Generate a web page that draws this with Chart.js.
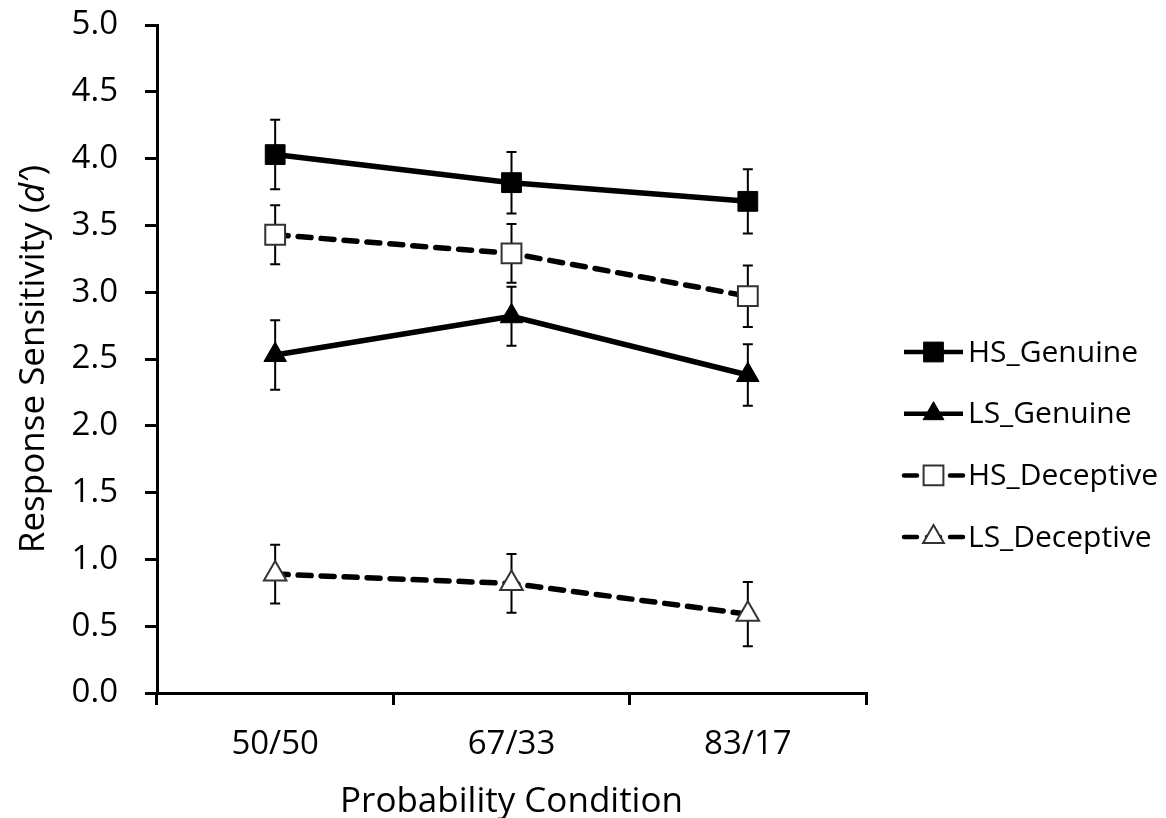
<!DOCTYPE html>
<html>
<head>
<meta charset="utf-8">
<script src="https://cdn.jsdelivr.net/npm/chart.js"></script>
<style>
  html, body { margin: 0; padding: 0; background: #fff; }
  canvas { display: block; }
</style>
</head>
<body>
<canvas id="d_prime_chart" width="1166" height="818"></canvas>
<script>
  // Probability conditions (x axis)
  const conditions = ["50/50", "67/33", "83/17"];

  // Mean response sensitivity per condition, with error bar half-widths
  const hs_genuine = [4.03, 3.82, 3.68];
  const hs_genuine_err = [0.26, 0.23, 0.24];
  const ls_genuine = [2.53, 2.82, 2.38];
  const ls_genuine_err = [0.26, 0.22, 0.23];
  const hs_deceptive = [3.43, 3.29, 2.97];
  const hs_deceptive_err = [0.22, 0.22, 0.23];
  const ls_deceptive = [0.89, 0.82, 0.59];
  const ls_deceptive_err = [0.22, 0.22, 0.24];

  // Y axis range and tick step
  const y_min = 0;
  const y_max = 5;
  const y_step = 0.5;

  const FONT = "'Open Sans', 'DejaVu Sans', sans-serif";
  Chart.defaults.font.family = FONT;
  Chart.defaults.color = "#000";

  function series(label, data, errors, style, filled, dashed) {
    return {
      label: label,
      data: data,
      errors: errors,
      borderColor: "#000",
      borderWidth: 5.5,
      borderDash: dashed ? [13, 10] : [],
      borderCapStyle: dashed ? "round" : "butt",
      pointStyle: style,
      pointRadius: style === "rect" ? 14 : 13,
      pointBorderWidth: filled ? 1 : 2,
      pointBackgroundColor: filled ? "#000" : "#fff",
      pointBorderColor: filled ? "#000" : "#333",
      tension: 0,
      fill: false,
    };
  }

  // Vertical error bars with small caps, drawn under the lines and markers
  const errorBars = {
    id: "errorBars",
    beforeDatasetsDraw(chart) {
      const ctx = chart.ctx;
      const y = chart.scales.y;
      ctx.save();
      ctx.strokeStyle = "#000";
      ctx.lineWidth = 2;
      chart.data.datasets.forEach((ds, i) => {
        chart.getDatasetMeta(i).data.forEach((pt, j) => {
          const top = y.getPixelForValue(ds.data[j] + ds.errors[j]);
          const bot = y.getPixelForValue(ds.data[j] - ds.errors[j]);
          ctx.beginPath();
          ctx.moveTo(pt.x, top);
          ctx.lineTo(pt.x, bot);
          ctx.moveTo(pt.x - 5, top);
          ctx.lineTo(pt.x + 5, top);
          ctx.moveTo(pt.x - 5, bot);
          ctx.lineTo(pt.x + 5, bot);
          ctx.stroke();
        });
      });
      ctx.restore();
    },
  };

  // Legend on the right: short line with the marker in the middle
  const sideLegend = {
    id: "sideLegend",
    afterDraw(chart) {
      const ctx = chart.ctx;
      const x0 = chart.chartArea.right + 38;
      const x1 = x0 + 59;
      const xm = (x0 + x1) / 2;
      ctx.save();
      chart.data.datasets.forEach((ds, i) => {
        const yy = 352 + i * 61.7;
        ctx.beginPath();
        ctx.setLineDash(ds.borderDash);
        ctx.lineCap = ds.borderCapStyle;
        ctx.lineWidth = 4.5;
        ctx.strokeStyle = "#000";
        ctx.moveTo(x0, yy);
        ctx.lineTo(x1, yy);
        ctx.stroke();
        ctx.setLineDash([]);
        ctx.fillStyle = ds.pointBackgroundColor;
        ctx.strokeStyle = ds.pointBorderColor;
        ctx.lineWidth = ds.pointBorderWidth;
        Chart.helpers.drawPoint(ctx, {
          pointStyle: ds.pointStyle,
          radius: ds.pointStyle === "rect" ? 14 : 12,
          rotation: 0,
          borderWidth: ds.pointBorderWidth,
        }, xm, yy);
        ctx.fillStyle = "#000";
        ctx.font = "30px " + FONT;
        ctx.textAlign = "left";
        ctx.textBaseline = "middle";
        ctx.fillText(ds.label, x1 + 5, yy + 1);
      });
      ctx.restore();
    },
  };

  // Axis titles; the y title has an italic d'
  const axisTitles = {
    id: "axisTitles",
    afterDraw(chart) {
      const ctx = chart.ctx;
      const area = chart.chartArea;
      ctx.save();
      ctx.fillStyle = "#000";
      ctx.textBaseline = "alphabetic";

      ctx.font = "35px " + FONT;
      ctx.textAlign = "center";
      ctx.fillText("Probability Condition", (area.left + area.right) / 2, 812);

      const parts = [
        { text: "Response Sensitivity (", font: "35px " + FONT },
        { text: "d\u2032", font: "italic 35px " + FONT },
        { text: ")", font: "35px " + FONT },
      ];
      let total = 0;
      parts.forEach((p) => {
        ctx.font = p.font;
        p.w = ctx.measureText(p.text).width;
        total += p.w;
      });
      ctx.translate(44, (area.top + area.bottom) / 2);
      ctx.rotate(-Math.PI / 2);
      ctx.textAlign = "left";
      let x = -total / 2;
      parts.forEach((p) => {
        ctx.font = p.font;
        ctx.fillText(p.text, x, 0);
        x += p.w;
      });
      ctx.restore();
    },
  };

  new Chart("d_prime_chart", {
    type: "line",
    data: {
      labels: conditions,
      datasets: [
        series("HS_Genuine", hs_genuine, hs_genuine_err, "rect", true, false),
        series("LS_Genuine", ls_genuine, ls_genuine_err, "triangle", true, false),
        series("HS_Deceptive", hs_deceptive, hs_deceptive_err, "rect", false, true),
        series("LS_Deceptive", ls_deceptive, ls_deceptive_err, "triangle", false, true),
      ],
    },
    plugins: [errorBars, sideLegend, axisTitles],
    options: {
      responsive: false,
      animation: false,
      devicePixelRatio: 1,
      layout: { padding: { left: 0, right: 300, top: 25, bottom: 0 } },
      plugins: {
        legend: { display: false },
        tooltip: { enabled: false },
      },
      scales: {
        x: {
          type: "category",
          offset: true,
          grid: {
            offset: true,
            drawOnChartArea: false,
            drawTicks: true,
            tickLength: 12,
            lineWidth: 3,
            color: "#000",
          },
          border: { display: true, color: "#000", width: 3 },
          ticks: { font: { size: 33 }, padding: 20, maxRotation: 0 },
          afterFit(scale) {
            scale.height = 125;
          },
        },
        y: {
          min: y_min,
          max: y_max,
          grid: {
            drawOnChartArea: false,
            drawTicks: true,
            tickLength: 12,
            lineWidth: 3,
            color: "#000",
          },
          border: { display: true, color: "#000", width: 3 },
          ticks: {
            stepSize: y_step,
            font: { size: 33 },
            padding: 27,
            callback: (v) => Number(v).toFixed(1),
          },
          afterFit(scale) {
            scale.width = 157;
            // only leave room for half a label above the top tick
            scale.paddingTop = 20;
            scale.paddingBottom = 20;
          },
        },
      },
    },
  });
</script>
</body>
</html>
